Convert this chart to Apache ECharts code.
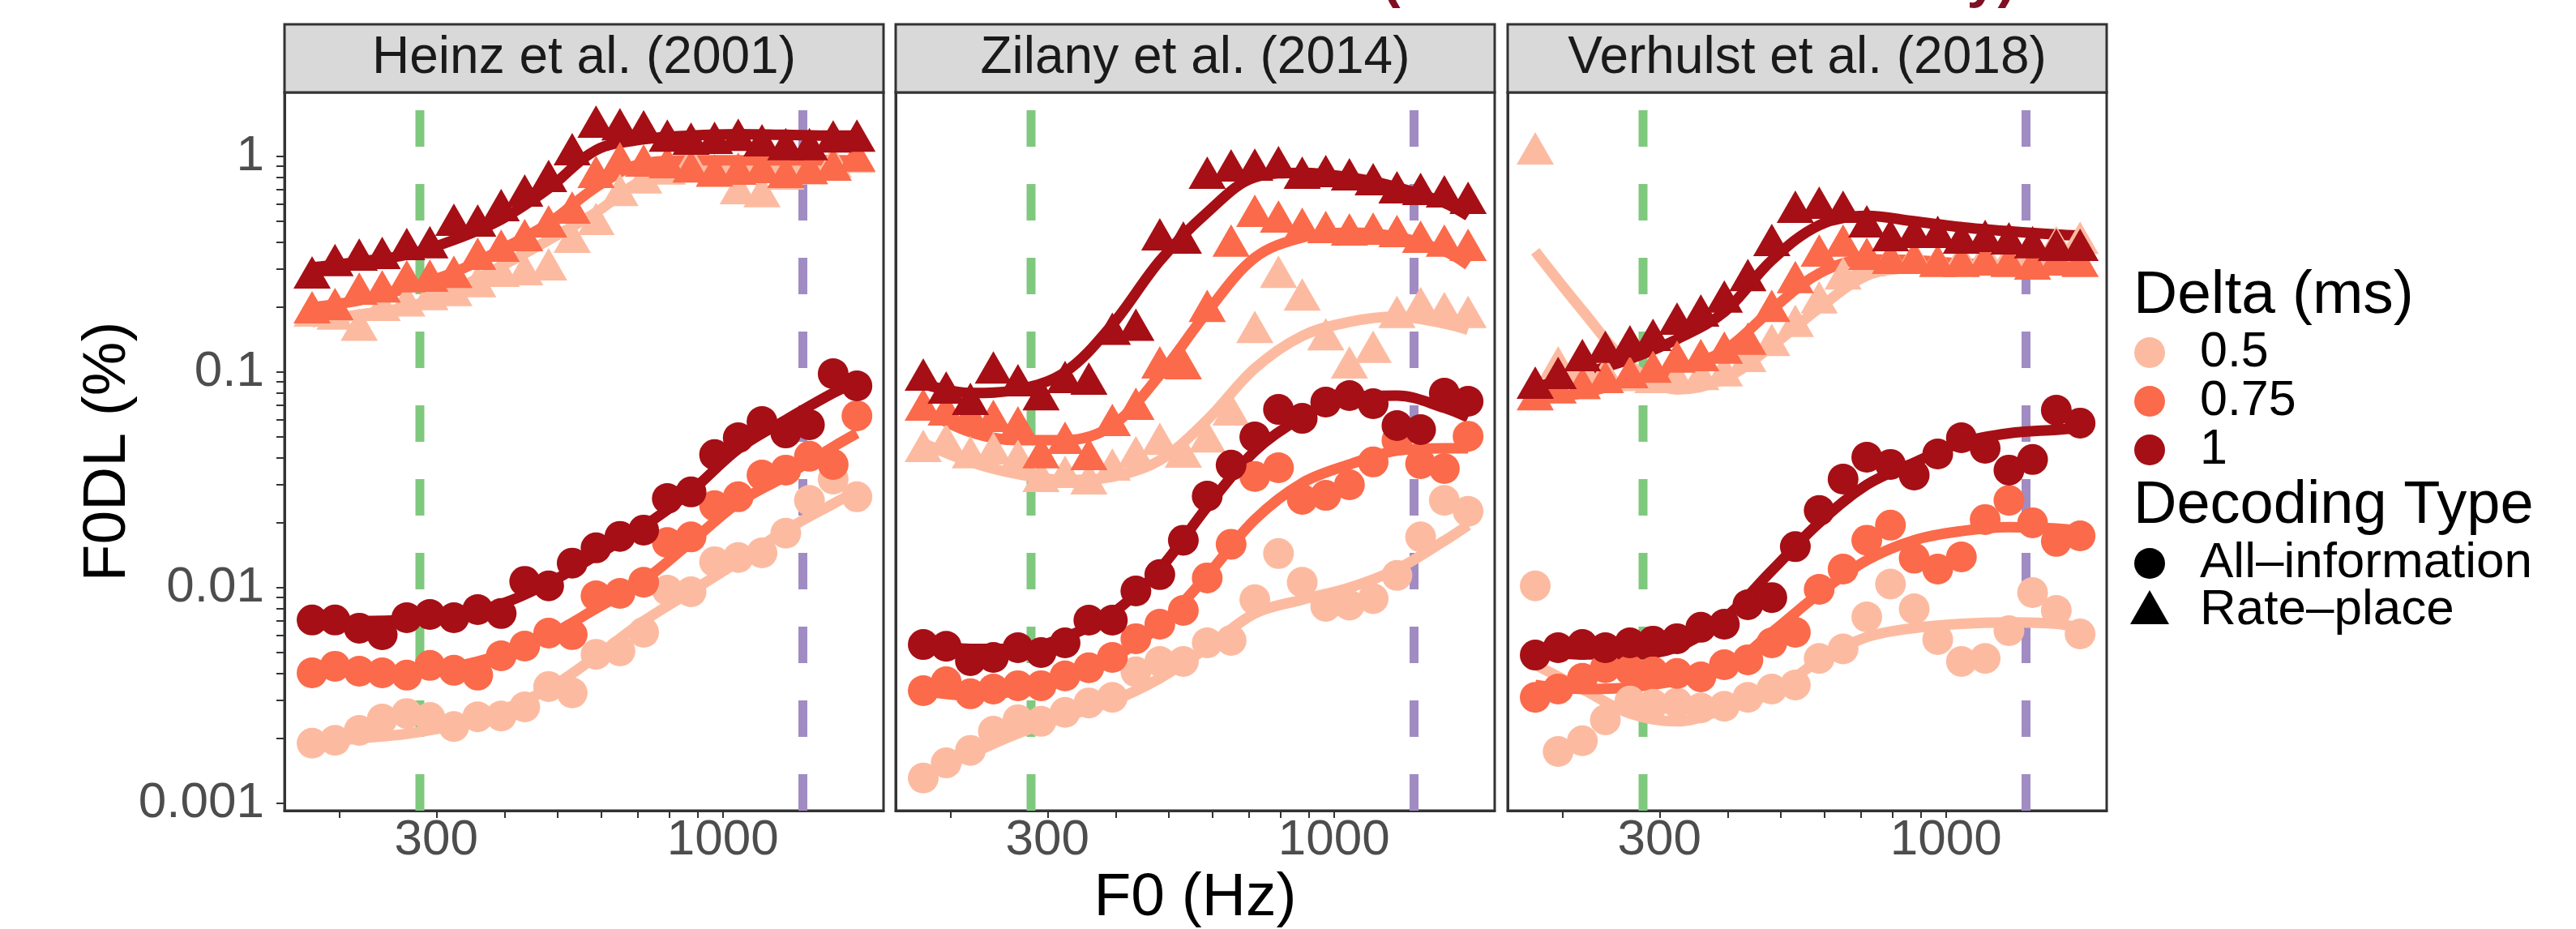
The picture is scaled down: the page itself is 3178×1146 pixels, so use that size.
<!DOCTYPE html>
<html>
<head>
<meta charset="utf-8">
<title>F0DL by model</title>
<script src="https://cdn.jsdelivr.net/npm/echarts@6/dist/echarts.min.js"></script>
<style>
  html, body { margin: 0; padding: 0; background: #ffffff; }
  #chart { width: 3178px; height: 1146px; }
</style>
</head>
<body>
<div id="chart"></div>
<script>
// ---- data (F0 in Hz, F0DL in %) ----
const F0_HZ = [178, 196, 217, 239, 265, 292, 323, 357, 394, 435, 481, 531,
               587, 649, 717, 792, 875, 966, 1067, 1179, 1303, 1439, 1590, 1757];
// indices of F0_HZ where the fitted curves were read
const FIT_KNOTS = [0, 2, 4, 6, 8, 10, 12, 14, 16, 18, 20, 22, 23];

const DELTA_LABELS = ['0.5', '0.75', '1'];
const DECODING_LABELS = ['All\u2013information', 'Rate\u2013place'];
const PANEL_TITLES = ['Heinz et al. (2001)', 'Zilany et al. (2014)', 'Verhulst et al. (2018)'];

const REF_LINES_HZ = [280, 1400];
const X_LABEL_HZ = [300, 1000];
const X_TICK_HZ = [200, 300, 400, 500, 600, 700, 800, 900, 1000];
const Y_BREAKS = [0.001, 0.01, 0.1, 1];
const Y_BREAK_LABELS = ['0.001', '0.01', '0.1', '1'];

// Heinz et al. (2001)
const heinzAll05  = [0.0019, 0.00196, 0.00218, 0.00246, 0.00261, 0.0025, 0.00227, 0.00252, 0.00254, 0.0028, 0.00348, 0.00325, 0.00491, 0.00509, 0.00621, 0.00974, 0.00957, 0.0132, 0.0138, 0.0145, 0.0179, 0.0254, 0.0319, 0.0264];
const heinzAll075 = [0.00403, 0.00432, 0.0041, 0.00403, 0.00393, 0.00436, 0.00414, 0.00393, 0.00483, 0.00536, 0.00616, 0.00606, 0.00917, 0.00941, 0.0106, 0.0162, 0.0172, 0.024, 0.0264, 0.0333, 0.0351, 0.0407, 0.0373, 0.0627];
const heinzAll1   = [0.00708, 0.00708, 0.00649, 0.00605, 0.00726, 0.00751, 0.00726, 0.00791, 0.00759, 0.0107, 0.0102, 0.013, 0.0153, 0.0173, 0.0185, 0.0259, 0.0278, 0.0414, 0.0496, 0.059, 0.0522, 0.057, 0.0983, 0.0863];
const heinzRate05  = [0.193, 0.187, 0.166, 0.205, 0.215, 0.23, 0.24, 0.264, 0.295, 0.3, 0.316, 0.424, 0.513, 0.7, 0.8, 0.88, 0.95, 0.856, 0.714, 0.69, 0.834, 0.88, 0.95, 1.0];
const heinzRate075 = [0.2, 0.207, 0.244, 0.25, 0.278, 0.28, 0.292, 0.354, 0.386, 0.432, 0.5, 0.58, 0.848, 0.983, 0.958, 0.941, 0.9, 0.863, 0.878, 0.894, 0.848, 0.886, 0.917, 1.01];
const heinzRate1   = [0.29, 0.331, 0.351, 0.357, 0.393, 0.4, 0.509, 0.505, 0.595, 0.695, 0.812, 1.08, 1.45, 1.41, 1.38, 1.25, 1.21, 1.22, 1.26, 1.19, 1.14, 1.14, 1.24, 1.25];
const heinzFitAll05  = [0.0019, 0.002, 0.0021, 0.0023, 0.0027, 0.0034, 0.0048, 0.007, 0.0096, 0.0132, 0.0185, 0.0245, 0.028];
const heinzFitAll075 = [0.0041, 0.0041, 0.0041, 0.0043, 0.0049, 0.006, 0.008, 0.0108, 0.0163, 0.0248, 0.033, 0.045, 0.052];
const heinzFitAll1   = [0.0071, 0.007, 0.0071, 0.0075, 0.0084, 0.0105, 0.0141, 0.0192, 0.028, 0.044, 0.06, 0.08, 0.09];
const heinzFitRate05  = [0.17, 0.185, 0.2, 0.24, 0.31, 0.41, 0.55, 0.78, 0.855, 0.87, 0.88, 0.89, 0.9];
const heinzFitRate075 = [0.2, 0.215, 0.245, 0.29, 0.37, 0.49, 0.72, 0.93, 0.96, 0.96, 0.96, 0.96, 0.96];
const heinzFitRate1   = [0.306, 0.325, 0.35, 0.41, 0.51, 0.71, 1.07, 1.2, 1.25, 1.27, 1.26, 1.25, 1.25];

// Zilany et al. (2014)
const zilanyAll05  = [0.00131, 0.00154, 0.00176, 0.00216, 0.00244, 0.0024, 0.00264, 0.00292, 0.0031, 0.00407, 0.00455, 0.00455, 0.00555, 0.0057, 0.0088, 0.0144, 0.0106, 0.0082, 0.0083, 0.0089, 0.0114, 0.0172, 0.0254, 0.0226];
const zilanyAll075 = [0.00333, 0.00366, 0.00322, 0.00339, 0.00351, 0.00351, 0.0039, 0.00425, 0.00475, 0.0058, 0.00677, 0.00785, 0.0111, 0.0159, 0.0328, 0.036, 0.0257, 0.0268, 0.03, 0.0383, 0.0483, 0.0376, 0.0357, 0.0504];
const zilanyAll1   = [0.00545, 0.00535, 0.00459, 0.00475, 0.00527, 0.005, 0.00555, 0.00707, 0.00707, 0.00966, 0.0115, 0.0166, 0.0266, 0.037, 0.05, 0.0671, 0.061, 0.0726, 0.0778, 0.0713, 0.0565, 0.0541, 0.0798, 0.0732];
const zilanyRate05  = [0.0455, 0.0487, 0.0425, 0.0443, 0.041, 0.033, 0.0345, 0.0322, 0.0373, 0.0425, 0.0491, 0.0428, 0.0504, 0.0671, 0.162, 0.292, 0.229, 0.15, 0.111, 0.131, 0.19, 0.209, 0.198, 0.19];
const zilanyRate075 = [0.0707, 0.0671, 0.0643, 0.0627, 0.0585, 0.0425, 0.0496, 0.0417, 0.06, 0.0713, 0.111, 0.11, 0.203, 0.407, 0.56, 0.527, 0.487, 0.471, 0.459, 0.463, 0.451, 0.424, 0.407, 0.389];
const zilanyRate1   = [0.0974, 0.0848, 0.0752, 0.105, 0.0917, 0.079, 0.095, 0.0933, 0.159, 0.166, 0.436, 0.421, 0.841, 0.909, 0.917, 0.941, 0.841, 0.856, 0.827, 0.785, 0.72, 0.707, 0.689, 0.643];
const zilanyFitAll05  = [0.00132, 0.00169, 0.00211, 0.00252, 0.00298, 0.0038, 0.00527, 0.0076, 0.0088, 0.01, 0.0122, 0.0165, 0.0195];
const zilanyFitAll075 = [0.00333, 0.00316, 0.00333, 0.00373, 0.0047, 0.00666, 0.0114, 0.0207, 0.0306, 0.0373, 0.0432, 0.0443, 0.0443];
const zilanyFitAll1   = [0.00555, 0.0052, 0.0052, 0.0059, 0.0076, 0.0122, 0.0237, 0.043, 0.0616, 0.0764, 0.0778, 0.0683, 0.0616];
const zilanyFitRate05  = [0.0468, 0.0383, 0.0336, 0.0316, 0.0327, 0.039, 0.06, 0.104, 0.147, 0.171, 0.181, 0.168, 0.157];
const zilanyFitRate075 = [0.067, 0.0527, 0.0483, 0.0483, 0.0565, 0.097, 0.19, 0.339, 0.421, 0.443, 0.424, 0.364, 0.314];
const zilanyFitRate1   = [0.088, 0.08, 0.083, 0.1, 0.166, 0.328, 0.55, 0.8, 0.84, 0.8, 0.72, 0.61, 0.53];

// Verhulst et al. (2018)
const verhulstAll05  = [0.0102, 0.00174, 0.00195, 0.00244, 0.00298, 0.00288, 0.00292, 0.00277, 0.00282, 0.0031, 0.00339, 0.00354, 0.0047, 0.0052, 0.00732, 0.0104, 0.00798, 0.00575, 0.00455, 0.0047, 0.00632, 0.00949, 0.00785, 0.0061];
const verhulstAll075 = [0.0031, 0.00339, 0.0038, 0.00425, 0.00414, 0.00407, 0.004, 0.00386, 0.00439, 0.00463, 0.00555, 0.00621, 0.00983, 0.0122, 0.0166, 0.0195, 0.0137, 0.0122, 0.0139, 0.0207, 0.0254, 0.02, 0.0164, 0.0174];
const verhulstAll1   = [0.00487, 0.00527, 0.00545, 0.00527, 0.00555, 0.00565, 0.0058, 0.00655, 0.00677, 0.00834, 0.009, 0.0155, 0.0228, 0.0319, 0.0403, 0.0373, 0.0333, 0.0417, 0.0496, 0.0443, 0.0351, 0.0393, 0.0666, 0.058];
const verhulstRate05  = [1.09, 0.111, 0.105, 0.1, 0.097, 0.095, 0.095, 0.098, 0.102, 0.119, 0.141, 0.173, 0.222, 0.287, 0.33, 0.34, 0.345, 0.33, 0.34, 0.35, 0.345, 0.36, 0.4, 0.42];
const verhulstRate075 = [0.079, 0.085, 0.089, 0.095, 0.1, 0.106, 0.118, 0.12, 0.13, 0.143, 0.203, 0.276, 0.366, 0.407, 0.354, 0.339, 0.339, 0.328, 0.328, 0.333, 0.328, 0.319, 0.333, 0.328];
const verhulstRate1   = [0.0893, 0.0991, 0.12, 0.131, 0.139, 0.149, 0.177, 0.193, 0.224, 0.282, 0.41, 0.585, 0.61, 0.585, 0.5, 0.432, 0.447, 0.447, 0.421, 0.428, 0.417, 0.4, 0.389, 0.389];
const verhulstFitAll05  = [0.00439, 0.00339, 0.00261, 0.0024, 0.00273, 0.00325, 0.00459, 0.0059, 0.0065, 0.0068, 0.0069, 0.0068, 0.0065];
const verhulstFitAll075 = [0.00354, 0.00339, 0.00345, 0.0037, 0.00418, 0.0062, 0.0094, 0.0134, 0.0166, 0.0183, 0.0191, 0.0188, 0.0183];
const verhulstFitAll1   = [0.0052, 0.0049, 0.0049, 0.0053, 0.0072, 0.012, 0.02, 0.03, 0.038, 0.047, 0.052, 0.054, 0.055];
const verhulstFitRate05  = [0.363, 0.193, 0.108, 0.083, 0.093, 0.132, 0.198, 0.28, 0.305, 0.31, 0.314, 0.319, 0.319];
const verhulstFitRate075 = [0.075, 0.08, 0.091, 0.103, 0.126, 0.195, 0.287, 0.333, 0.33, 0.319, 0.314, 0.31, 0.305];
const verhulstFitRate1   = [0.085, 0.098, 0.115, 0.142, 0.19, 0.33, 0.48, 0.53, 0.5, 0.47, 0.45, 0.435, 0.43];

// ---- layout & style ----
const FONT = '"Liberation Sans", Arial, Helvetica, sans-serif';
const DELTA_COLORS = ['#FCBBA1', '#FB6A4A', '#A50F15'];
const REF_LINE_COLORS = ['#7FC97F', '#A08CC3'];
const GRID_LEFTS = [351, 1105, 1860];
const GRID_TOP = 114, GRID_W = 739, GRID_H = 886, STRIP_TOP = 30;
const X_MIN = 2.2001, X_MAX = 3.2933;   // log10(Hz)
const Y_MIN = -3.034, Y_MAX = 0.297;    // log10(%)

const lg = Math.log10;

const panels = [
  { all: [heinzAll05, heinzAll075, heinzAll1], rate: [heinzRate05, heinzRate075, heinzRate1],
    fitAll: [heinzFitAll05, heinzFitAll075, heinzFitAll1], fitRate: [heinzFitRate05, heinzFitRate075, heinzFitRate1] },
  { all: [zilanyAll05, zilanyAll075, zilanyAll1], rate: [zilanyRate05, zilanyRate075, zilanyRate1],
    fitAll: [zilanyFitAll05, zilanyFitAll075, zilanyFitAll1], fitRate: [zilanyFitRate05, zilanyFitRate075, zilanyFitRate1] },
  { all: [verhulstAll05, verhulstAll075, verhulstAll1], rate: [verhulstRate05, verhulstRate075, verhulstRate1],
    fitAll: [verhulstFitAll05, verhulstFitAll075, verhulstFitAll1], fitRate: [verhulstFitRate05, verhulstFitRate075, verhulstFitRate1] }
];

const grids = [], xAxes = [], yAxes = [], series = [], graphics = [];

panels.forEach((p, i) => {
  grids.push({
    left: GRID_LEFTS[i], top: GRID_TOP, width: GRID_W, height: GRID_H,
    show: true, borderColor: '#333333', borderWidth: 3, backgroundColor: '#ffffff',
    outerBoundsMode: 'none', containLabel: false
  });
  xAxes.push({
    gridIndex: i, type: 'value', min: X_MIN, max: X_MAX,
    axisLine: { show: true, onZero: false, lineStyle: { color: '#333333', width: 3 } },
    splitLine: { show: false },
    axisTick: { show: true, customValues: X_TICK_HZ.map(lg), length: 9, lineStyle: { color: '#333333', width: 2 } },
    axisLabel: {
      customValues: X_LABEL_HZ.map(lg), formatter: v => String(Math.round(Math.pow(10, v))),
      color: '#4D4D4D', fontSize: 62, fontFamily: FONT, margin: 6, lineHeight: 62
    }
  });
  const yTicks = [];
  Y_BREAKS.forEach(b => { for (let m = 1; m <= 9; m++) { const t = lg(b * m); if (t >= Y_MIN && t <= Y_MAX) yTicks.push(t); } });
  yAxes.push({
    gridIndex: i, type: 'value', min: Y_MIN, max: Y_MAX,
    axisLine: { show: true, onZero: false, lineStyle: { color: '#333333', width: 3 } },
    splitLine: { show: false },
    axisTick: { show: i === 0, customValues: yTicks, length: 10, lineStyle: { color: '#333333', width: 2 } },
    axisLabel: {
      show: i === 0, customValues: Y_BREAKS.map(lg),
      formatter: v => Y_BREAK_LABELS[Y_BREAKS.findIndex(b => Math.abs(lg(b) - v) < 1e-6)],
      color: '#4D4D4D', fontSize: 62, fontFamily: FONT, margin: 25
    }
  });

  // dashed reference lines
  REF_LINES_HZ.forEach((hz, j) => {
    series.push({
      type: 'line', xAxisIndex: i, yAxisIndex: i, silent: true, z: 1,
      symbol: 'none', animation: false,
      data: [[lg(hz), Y_MIN], [lg(hz), Y_MAX]],
      lineStyle: { color: REF_LINE_COLORS[j], width: 11, type: [45, 46] }
    });
  });

  // fitted curves
  [p.fitAll, p.fitRate].forEach(fits => {
    fits.forEach((vals, d) => {
      series.push({
        type: 'line', xAxisIndex: i, yAxisIndex: i, silent: true, z: 2,
        smooth: 0.35, symbol: 'none', animation: false,
        data: FIT_KNOTS.map((k, n) => [lg(F0_HZ[k]), lg(vals[n])]),
        lineStyle: { color: DELTA_COLORS[d], width: 13, cap: 'butt' }
      });
    });
  });

  // points
  DELTA_LABELS.forEach((lab, d) => {
    [[p.all[d], 'circle', 38], [p.rate[d], 'triangle', [46, 40]]].forEach(([vals, sym, size]) => {
      series.push({
        type: 'scatter', xAxisIndex: i, yAxisIndex: i, silent: true, z: 3,
        symbol: sym, symbolSize: size, animation: false,
        data: F0_HZ.map((f, k) => [lg(f), lg(vals[k])]),
        itemStyle: { color: DELTA_COLORS[d], opacity: 1 }
      });
    });
  });

  // facet strip
  graphics.push({
    type: 'rect', z: 10,
    shape: { x: GRID_LEFTS[i], y: STRIP_TOP, width: GRID_W, height: GRID_TOP - STRIP_TOP },
    style: { fill: '#D9D9D9', stroke: '#333333', lineWidth: 3 }
  });
  graphics.push({
    type: 'text', z: 11, x: GRID_LEFTS[i] + GRID_W / 2, y: 72,
    style: { text: PANEL_TITLES[i], fill: '#1A1A1A', font: '64px ' + FONT, align: 'center', verticalAlign: 'middle' }
  });
});

// axis titles
graphics.push({
  type: 'text', x: 133, y: GRID_TOP + GRID_H / 2, rotation: Math.PI / 2,
  style: { text: 'F0DL (%)', fill: '#000000', font: '75px ' + FONT, align: 'center', verticalAlign: 'middle' }
});
graphics.push({
  type: 'text', x: GRID_LEFTS[1] + GRID_W / 2, y: 1108,
  style: { text: 'F0 (Hz)', fill: '#000000', font: '75px ' + FONT, align: 'center', verticalAlign: 'middle' }
});

// clipped title at the very top
graphics.push({
  type: 'text', x: 1705, y: -23,
  style: { text: '(Noise-Limited AN Only)', fill: '#7F0F23', font: 'bold 68px ' + FONT, align: 'left', verticalAlign: 'middle' }
});

// legends
const LEG_X = 2632, KEY_X = 2652, LAB_X = 2714;
graphics.push({ type: 'text', x: LEG_X, y: 365,
  style: { text: 'Delta (ms)', fill: '#000000', font: '75px ' + FONT, align: 'left', verticalAlign: 'middle' } });
DELTA_LABELS.forEach((lab, d) => {
  const y = 435 + 60 * d;
  graphics.push({ type: 'circle', shape: { cx: KEY_X, cy: y, r: 19 }, style: { fill: DELTA_COLORS[d] } });
  graphics.push({ type: 'text', x: LAB_X, y: y,
    style: { text: lab, fill: '#000000', font: '61px ' + FONT, align: 'left', verticalAlign: 'middle' } });
});
graphics.push({ type: 'text', x: LEG_X, y: 625,
  style: { text: 'Decoding Type', fill: '#000000', font: '74px ' + FONT, align: 'left', verticalAlign: 'middle' } });
graphics.push({ type: 'circle', shape: { cx: KEY_X, cy: 695, r: 19 }, style: { fill: '#000000' } });
graphics.push({ type: 'text', x: LAB_X, y: 695,
  style: { text: DECODING_LABELS[0], fill: '#000000', font: '62px ' + FONT, align: 'left', verticalAlign: 'middle' } });
graphics.push({ type: 'polygon', shape: { points: [[KEY_X, 728], [KEY_X + 24, 770], [KEY_X - 24, 770]] }, style: { fill: '#000000' } });
graphics.push({ type: 'text', x: LAB_X, y: 753,
  style: { text: DECODING_LABELS[1], fill: '#000000', font: '62px ' + FONT, align: 'left', verticalAlign: 'middle' } });

const chart = echarts.init(document.getElementById('chart'), null, { renderer: 'canvas' });
chart.setOption({
  animation: false,
  backgroundColor: '#ffffff',
  grid: grids,
  xAxis: xAxes,
  yAxis: yAxes,
  series: series,
  graphic: graphics
});
</script>
</body>
</html>
